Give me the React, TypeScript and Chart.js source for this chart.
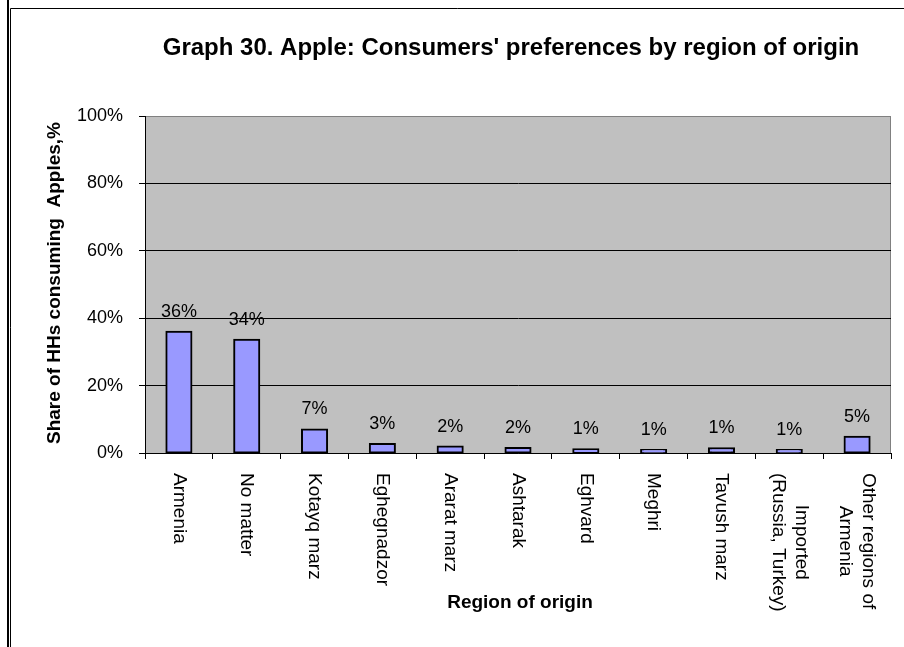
import React, { useEffect, useRef } from "react";
import { Chart, registerables } from "chart.js";

Chart.register(...registerables);

const categories: (string | string[])[] = [
  "Armenia",
  "No matter",
  "Kotayq marz",
  "Eghegnadzor",
  "Ararat marz",
  "Ashtarak",
  "Eghvard",
  "Meghri",
  "Tavush marz",
  ["Imported", "(Russia, Turkey)"],
  ["Other regions of", "Armenia"],
];
const shares = [36, 33.6, 7.0, 2.7, 1.9, 1.5, 1.1, 0.9, 1.4, 0.9, 4.8];
const titleText = "Graph 30. Apple: Consumers' preferences by region of origin";
const yTitleText = "Share of HHs consuming  Apples,%";
const xTitleText = "Region of origin";

const FONT = "'Liberation Sans', Arial, sans-serif";

const decorPlugin = {
  id: "decor",
  beforeDraw(chart: any) {
    const { ctx, chartArea: a } = chart;
    ctx.save();
    ctx.fillStyle = "#ffffff";
    ctx.fillRect(0, 0, chart.width, chart.height);
    ctx.fillStyle = "#C0C0C0";
    ctx.fillRect(a.left, a.top, a.right - a.left, a.bottom - a.top);
    ctx.strokeStyle = "#808080";
    ctx.lineWidth = 1;
    ctx.beginPath();
    ctx.moveTo(a.left, a.top + 0.5);
    ctx.lineTo(a.right - 0.5, a.top + 0.5);
    ctx.lineTo(a.right - 0.5, a.bottom);
    ctx.stroke();
    ctx.restore();
  },
  afterDraw(chart: any) {
    const { ctx, chartArea: a } = chart;
    const xs = chart.scales.x;
    ctx.save();
    // frame
    ctx.strokeStyle = "#000";
    ctx.lineWidth = 2;
    ctx.beginPath();
    ctx.moveTo(8, 0);
    ctx.lineTo(8, chart.height);
    ctx.stroke();
    ctx.lineWidth = 1;
    ctx.beginPath();
    ctx.moveTo(10.5, chart.height);
    ctx.lineTo(10.5, 8.5);
    ctx.lineTo(chart.width, 8.5);
    ctx.stroke();

    ctx.fillStyle = "#000";
    // title
    ctx.font = `bold 24px ${FONT}`;
    ctx.textAlign = "center";
    ctx.textBaseline = "alphabetic";
    ctx.fillText(titleText, 511, 55);

    // x title
    ctx.font = `bold 19px ${FONT}`;
    ctx.fillText(xTitleText, 520, 608);

    // y title
    ctx.save();
    ctx.translate(55, 283);
    ctx.rotate(-Math.PI / 2);
    ctx.textBaseline = "middle";
    ctx.fillText(yTitleText, 0, 0);
    ctx.restore();

    // data labels
    ctx.font = `18px ${FONT}`;
    ctx.textAlign = "center";
    ctx.textBaseline = "alphabetic";
    const meta = chart.getDatasetMeta(0);
    meta.data.forEach((bar: any, i: number) => {
      ctx.fillText(Math.round(shares[i]) + "%", bar.x, bar.y - 15);
    });

    // x tick labels rotated clockwise
    ctx.font = `19px ${FONT}`;
    const lh = 23;
    categories.forEach((lab, i) => {
      const lines = Array.isArray(lab) ? lab : [lab];
      const n = lines.length;
      const W = Math.max(...lines.map((l) => ctx.measureText(l).width));
      const x = xs.getPixelForValue(i);
      ctx.save();
      ctx.translate(x, a.bottom + 20);
      ctx.rotate(Math.PI / 2);
      ctx.textAlign = "center";
      ctx.textBaseline = "middle";
      lines.forEach((l, j) => {
        ctx.fillText(l, W / 2, (j - (n - 1) / 2) * lh);
      });
      ctx.restore();
    });
    ctx.restore();
  },
};

export default function App() {
  const ref = useRef<HTMLCanvasElement>(null);
  useEffect(() => {
    if (!ref.current) return;
    const chart = new Chart(ref.current, {
      type: "bar",
      data: {
        labels: categories.map((c) => (Array.isArray(c) ? c.join(" ") : c)),
        datasets: [
          {
            data: shares,
            backgroundColor: "#9999FF",
            borderColor: "#000000",
            borderWidth: 2,
            borderSkipped: false,
            inflateAmount: 1,
            barPercentage: 0.37,
            categoryPercentage: 1,
          } as any,
        ],
      },
      options: {
        responsive: false,
        animation: false,
        devicePixelRatio: 1,
        layout: { padding: { left: 0, top: 116, right: 13, bottom: 0 } },
        plugins: {
          legend: { display: false },
          tooltip: { enabled: false },
          title: { display: false },
        },
        scales: {
          x: {
            offset: true,
            grid: {
              display: true,
              offset: true,
              drawOnChartArea: false,
              drawTicks: true,
              tickLength: 6,
              color: "#000",
              tickColor: "#000",
            },
            border: { display: true, color: "#000", width: 1 },
            ticks: { display: false },
            afterFit: (s: any) => {
              s.height = 194;
            },
          },
          y: {
            min: 0,
            max: 100,
            ticks: {
              stepSize: 20,
              padding: 16,
              color: "#000",
              font: { size: 18, family: FONT },
              callback: (v: any) => v + "%",
            },
            grid: {
              drawTicks: true,
              tickLength: 6,
              color: (c: any) => (c.tick && c.tick.value === 100 ? "#808080" : "#000"),
              tickColor: "#000",
            },
            border: { display: true, color: "#000", width: 1 },
            afterFit: (s: any) => {
              s.width = 145;
            },
          },
        },
      },
      plugins: [decorPlugin],
    });
    return () => chart.destroy();
  }, []);
  return (
    <div style={{ position: "fixed", left: 0, top: 0, width: 904, height: 647, background: "#fff" }}>
      <canvas ref={ref} width={904} height={647} style={{ width: 904, height: 647 }} />
    </div>
  );
}
